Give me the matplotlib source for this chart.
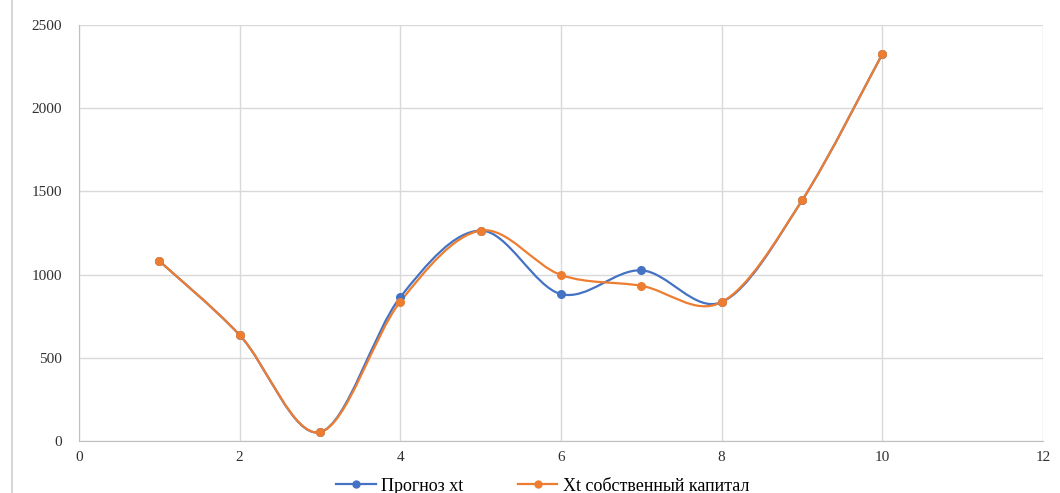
import numpy as np
import matplotlib.pyplot as plt
from matplotlib.path import Path
from matplotlib.patches import PathPatch
from matplotlib.lines import Line2D

periods = [1, 2, 3, 4, 5, 6, 7, 8, 9, 10]
forecast_xt = [1082, 637, 53, 865, 1265, 883, 1026, 835, 1446, 2327]
equity_xt = [1082, 637, 53, 838, 1265, 998, 933, 835, 1446, 2327]

labels = ["Прогноз xt", "Xt собственный капитал"]
colors = ["#4472C4", "#ED7D31"]

plt.rcParams['font.family'] = ['Liberation Serif', 'DejaVu Serif']


def smooth_path(xs, ys):
    # cubic Bezier through every point, spreadsheet-style smoothing
    pts = np.column_stack([xs, ys]).astype(float)
    ext = np.vstack([pts[0], pts, pts[-1]])
    verts = [tuple(pts[0])]
    codes = [Path.MOVETO]
    for i in range(1, len(ext) - 2):
        p0, p1, p2, p3 = ext[i - 1], ext[i], ext[i + 1], ext[i + 2]
        c1 = p1 + (p2 - p0) / 6
        c2 = p2 - (p3 - p1) / 6
        verts += [tuple(c1), tuple(c2), tuple(p2)]
        codes += [Path.CURVE4] * 3
    return Path(verts, codes)


fig = plt.figure(figsize=(10.6, 4.93), dpi=100)
ax = fig.add_axes([0.0745, 0.1055, 0.9095, 0.8435])

for ys, color in zip([forecast_xt, equity_xt], colors):
    patch = PathPatch(smooth_path(periods, ys), facecolor='none', edgecolor=color,
                      lw=1.6, zorder=3, capstyle='round')
    ax.add_patch(patch)
    ax.plot(periods, ys, linestyle='none', marker='o', markersize=5.5,
            color=color, zorder=4)

ax.set_xlim(0, 12)
ax.set_ylim(0, 2500)
ax.set_xticks(range(0, 13, 2))
ax.set_yticks(range(0, 2501, 500))
ax.grid(True, color='#D9D9D9', lw=1)
ax.set_axisbelow(True)
for side in ['top', 'right']:
    ax.spines[side].set_visible(False)
for side in ['left', 'bottom']:
    ax.spines[side].set_color('#BFBFBF')
ax.tick_params(length=0, labelsize=11, colors='#303030')
ax.tick_params(axis='x', pad=7)
ax.tick_params(axis='y', pad=12)

handles = [Line2D([], [], color=c, lw=1.6, marker='o', markersize=5) for c in colors]
fig.legend(handles, labels, loc='center', bbox_to_anchor=(0.512, 0.014), ncol=2,
           frameon=False, fontsize=13, columnspacing=3.0, handlelength=2.2,
           handletextpad=0.3)

fig.add_artist(Line2D([0.0115, 0.0115], [0, 1], transform=fig.transFigure,
                      color='#D0D0D0', lw=1.2))

fig.savefig('out.png', dpi=100)
